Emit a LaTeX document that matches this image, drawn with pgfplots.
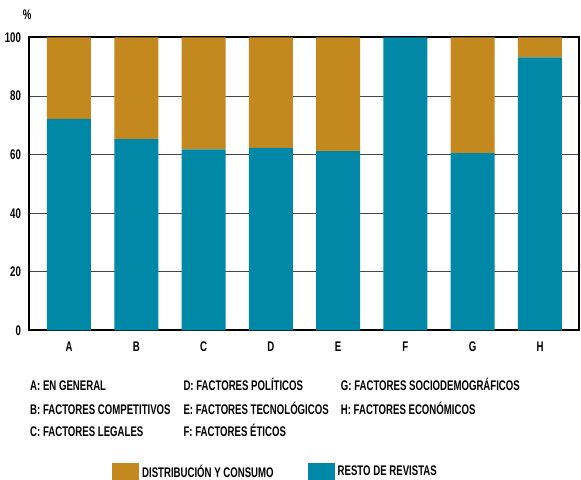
\documentclass[border=0pt]{standalone}
\usepackage{fontspec}
\setmainfont{Liberation Sans}[FakeStretch=0.69]
\usepackage{pgfplots}
\pgfplotsset{compat=1.18}
\definecolor{gold}{HTML}{C4891E}
\definecolor{teal2}{HTML}{0088A6}
\begin{document}
\fontsize{14}{16}\selectfont\bfseries
\begin{tikzpicture}
\begin{axis}[
  at={(29.3bp,149.5bp)}, anchor=south west,
  scale only axis, width=549.7bp, height=293bp,
  xmin=-0.59, xmax=7.58, ymin=0, ymax=100,
  ybar stacked, bar width=0.654,
  xtick={0,...,7}, xticklabels={A,B,C,D,E,F,G,H},
  ytick={0,20,...,100},
  /pgf/number format/assume math mode=true,
  ymajorgrids, major grid style={draw=black!72, line width=1.1bp},
  major tick length=0pt,
  set layers,
  axis line style={line width=2bp, black, /pgfplots/on layer=axis foreground},
  yticklabel style={xshift=-3.5bp},
  xticklabel style={yshift=-6.5bp},
  reverse legend,
  legend columns=2,
  legend style={at={(axis description cs:0.1504,-0.4829)}, anchor=west,
    draw=none, fill=none, inner sep=0pt,
    /tikz/every even column/.append style={column sep=31bp},
    nodes={inner sep=3bp}},
  clip=false,
]
\addplot[fill=teal2, draw=none,
  legend image code/.code={\fill[teal2] (0bp,-9bp) rectangle (27bp,9bp);}]
  coordinates {(0,72.2) (1,65.3) (2,61.8) (3,62.3) (4,61.2) (5,100) (6,60.5) (7,93.2)};
\addlegendentry{RESTO DE REVISTAS}
\addplot[fill=gold, draw=none,
  legend image code/.code={\fill[gold] (0bp,-9bp) rectangle (27bp,9bp);}]
  coordinates {(0,27.8) (1,34.7) (2,38.2) (3,37.7) (4,38.8) (5,0) (6,39.5) (7,6.8)};
\addlegendentry{DISTRIBUCIÓN Y CONSUMO}
\node at (axis description cs:-0.004,1.0785) {\%};
\end{axis}
\node[anchor=base west, inner sep=0pt] at (30bp,89bp) {A: EN GENERAL};
\node[anchor=base west, inner sep=0pt] at (30bp,65.7bp) {B: FACTORES COMPETITIVOS};
\node[anchor=base west, inner sep=0pt] at (30bp,43.3bp) {C: FACTORES LEGALES};
\node[anchor=base west, inner sep=0pt] at (183.3bp,89bp) {D: FACTORES POLÍTICOS};
\node[anchor=base west, inner sep=0pt] at (183.3bp,65.7bp) {E: FACTORES TECNOLÓGICOS};
\node[anchor=base west, inner sep=0pt] at (183.3bp,43.3bp) {F: FACTORES ÉTICOS};
\node[anchor=base west, inner sep=0pt] at (340.7bp,89bp) {G: FACTORES SOCIODEMOGRÁFICOS};
\node[anchor=base west, inner sep=0pt] at (340.7bp,65.7bp) {H: FACTORES ECONÓMICOS};
\pgfresetboundingbox
\useasboundingbox (0,0) rectangle (581bp,480bp);
\end{tikzpicture}
\end{document}
